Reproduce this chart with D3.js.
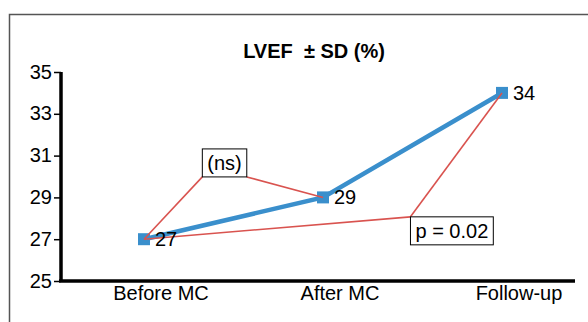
<!DOCTYPE html>
<html>
<head>
<meta charset="utf-8">
<script src="https://cdn.jsdelivr.net/npm/d3@7"></script>
<style>
  body { margin: 0; background: #fff; }
  svg { display: block; font-family: "Liberation Sans", Arial, sans-serif; }
</style>
</head>
<body>
<svg id="chart" width="588" height="322"></svg>
<script>
// data
var categories = ["Before MC", "After MC", "Follow-up"];
var lvef = [27, 29, 34];
var yTicks = [25, 27, 29, 31, 33, 35];
// p-value annotations: label, from/to category, where the box sits (fraction between categories, value)
var notes = [
  { label: "(ns)",     from: 0, to: 1, at: 0.45, val: 30.65, corner: "bottom" },
  { label: "p = 0.02", from: 0, to: 2, at: 1.72, val: 27.4,  corner: "top" }
];

var svg = d3.select("#chart");

// frame
svg.append("rect")
  .attr("x", 9.5).attr("y", 14.5)
  .attr("width", 640).attr("height", 400)
  .attr("fill", "none")
  .attr("stroke", "#555")
  .attr("stroke-width", 1.5);

var x = d3.scalePoint().domain(categories).range([144, 502]);
var y = d3.scaleLinear().domain([25, 35]).range([281, 72]);

// title
svg.append("text")
  .attr("x", 314).attr("y", 58)
  .attr("text-anchor", "middle")
  .attr("font-weight", "bold")
  .attr("font-size", 20)
  .attr("xml:space", "preserve")
  .text("LVEF  ± SD (%)");

// y axis
var yAxis = svg.append("g")
  .attr("transform", "translate(61,0)")
  .call(d3.axisLeft(y).tickValues(yTicks).tickSize(7).tickPadding(2));
yAxis.select(".domain").attr("stroke-width", 3.5).attr("d", "M0," + y(35) + "V" + y(25));
yAxis.selectAll(".tick line").attr("stroke-width", 1.5);
yAxis.selectAll("text").attr("font-size", 20).attr("font-family", "Liberation Sans, Arial, sans-serif").attr("fill", "#000").attr("dy", "0.3em");

// x axis line
svg.append("line")
  .attr("x1", 59).attr("x2", 575)
  .attr("y1", y(25)).attr("y2", y(25))
  .attr("stroke", "#000").attr("stroke-width", 3.5);

// category labels
svg.append("g").selectAll("text")
  .data(categories)
  .enter().append("text")
    .attr("x", function(d){ return x(d) + 17; })
    .attr("y", 300)
    .attr("text-anchor", "middle")
    .attr("font-size", 20)
    .text(function(d){ return d; });

// annotations (red lines + boxes)
var ann = svg.append("g");
notes.forEach(function(n){
  var i0 = Math.floor(n.at);
  var cx = x(categories[i0]) + (n.at - i0) * x.step();
  var cy = y(n.val);
  var t = ann.append("text")
    .attr("x", cx).attr("y", cy)
    .attr("text-anchor", "middle")
    .attr("dy", "0.35em")
    .attr("font-size", 20)
    .text(n.label);
  var bb = t.node().getBBox();
  var padX = 5, padY = 3;
  var bx0 = bb.x - padX, bx1 = bb.x + bb.width + padX;
  var by0 = bb.y - padY, by1 = bb.y + bb.height + padY;
  var p0 = [x(categories[n.from]), y(lvef[n.from])];
  var p1 = [x(categories[n.to]), y(lvef[n.to])];
  var pts;
  if (n.corner == "bottom") {
    pts = [[p0, [bx0, by1]], [[bx1, by1], p1]];
  } else {
    pts = [[p0, [bx0, by0]], [[bx0, by0], p1]];
  }
  pts.forEach(function(seg){
    ann.insert("line", "text")
      .attr("x1", seg[0][0]).attr("y1", seg[0][1])
      .attr("x2", seg[1][0]).attr("y2", seg[1][1])
      .attr("stroke", "#d9534f").attr("stroke-width", 1.6);
  });
  ann.insert("rect", "text")
    .attr("x", bx0).attr("y", by0)
    .attr("width", bx1 - bx0).attr("height", by1 - by0)
    .attr("fill", "#fff").attr("stroke", "#000").attr("stroke-width", 1);
});

// main series
var line = d3.line()
  .x(function(d, i){ return x(categories[i]); })
  .y(function(d){ return y(d); });

svg.append("path")
  .datum(lvef)
  .attr("d", line)
  .attr("fill", "none")
  .attr("stroke", "#3a8fcc")
  .attr("stroke-width", 4.6);

svg.append("g").selectAll("rect")
  .data(lvef)
  .enter().append("rect")
    .attr("x", function(d, i){ return x(categories[i]) - 6; })
    .attr("y", function(d){ return y(d) - 6; })
    .attr("width", 12).attr("height", 12)
    .attr("fill", "#3a8fcc");

// red lines pass over the first marker in the reference
ann.raise();

svg.append("g").selectAll("text")
  .data(lvef)
  .enter().append("text")
    .attr("x", function(d, i){ return x(categories[i]) + 11; })
    .attr("y", function(d){ return y(d); })
    .attr("dy", "0.35em")
    .attr("font-size", 20)
    .text(function(d){ return d; });
</script>
</body>
</html>
